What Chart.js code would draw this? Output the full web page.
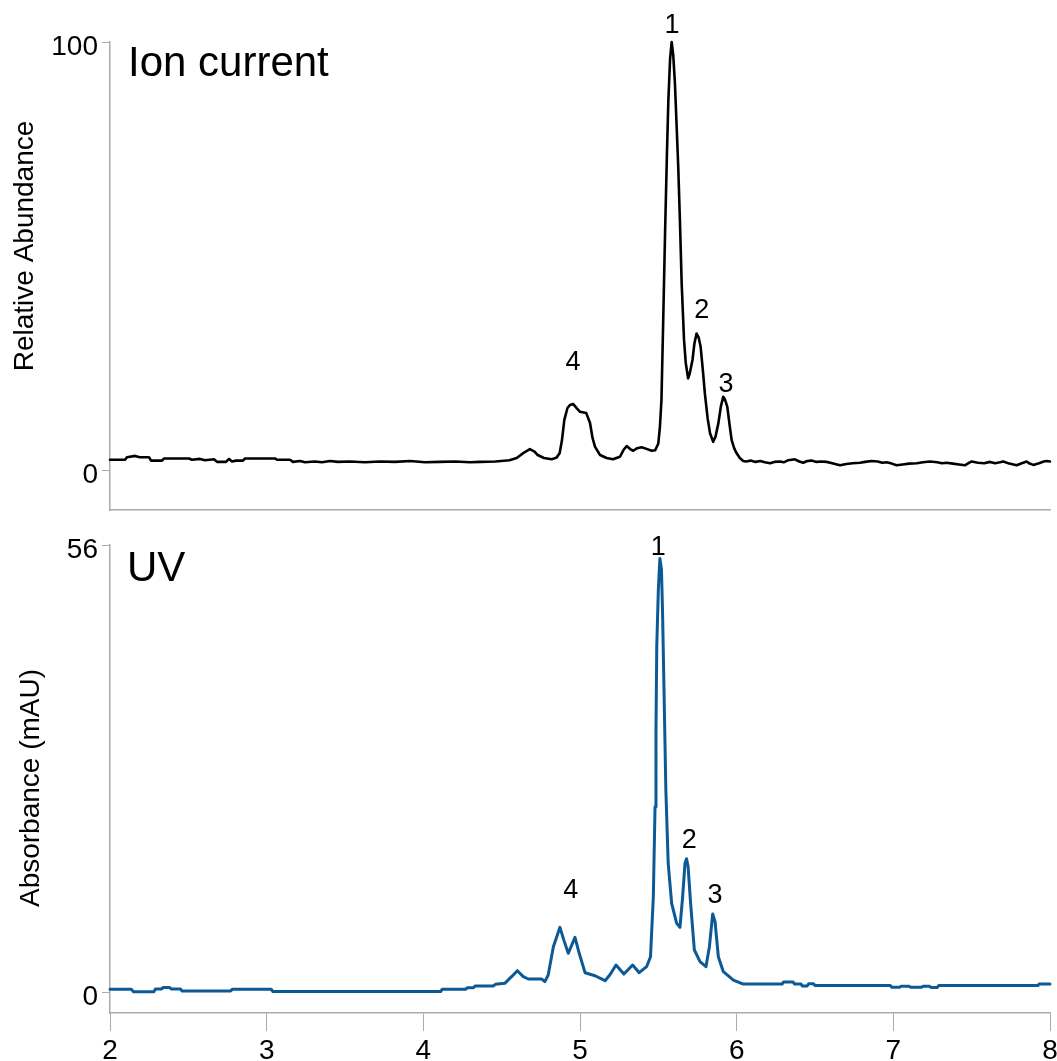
<!DOCTYPE html>
<html>
<head>
<meta charset="utf-8">
<script src="https://cdn.jsdelivr.net/npm/chart.js@4/dist/chart.umd.min.js"></script>
<style>
  html, body { margin: 0; padding: 0; background: #fff; }
  body { width: 1057px; height: 1061px; position: relative; overflow: hidden; }
  canvas { position: absolute; left: 0; }
  #ionCanvas { top: 0; }
  #uvCanvas { top: 525px; }
</style>
</head>
<body>
<canvas id="ionCanvas" width="1057" height="525"></canvas>
<canvas id="uvCanvas" width="1057" height="536"></canvas>
<script>
// Retention time axis (minutes)
const timeTicks = [2, 3, 4, 5, 6, 7, 8];

// Total ion current trace: retention time (min) and relative abundance (%)
const ionTime = [
  2.000, 2.096, 2.109, 2.160, 2.190, 2.249, 2.262, 2.332, 2.345, 2.504,
  2.523, 2.574, 2.606, 2.664, 2.683, 2.740, 2.760, 2.779, 2.804, 2.849,
  2.862, 3.053, 3.066, 3.149, 3.168, 3.213, 3.245, 3.308, 3.353, 3.404,
  3.455, 3.532, 3.628, 3.723, 3.819, 3.915, 4.011, 4.106, 4.202, 4.298,
  4.362, 4.460, 4.550, 4.596, 4.640, 4.680, 4.710, 4.730, 4.770, 4.820,
  4.850, 4.870, 4.885, 4.900, 4.920, 4.936, 4.957, 4.980, 5.000, 5.040,
  5.064, 5.080, 5.096, 5.128, 5.170, 5.210, 5.255, 5.280, 5.298, 5.320,
  5.340, 5.365, 5.393, 5.420, 5.457, 5.480, 5.500, 5.510, 5.520, 5.530,
  5.543, 5.555, 5.564, 5.575, 5.585, 5.595, 5.606, 5.615, 5.627, 5.638,
  5.649, 5.664, 5.675, 5.690, 5.700, 5.718, 5.730, 5.744, 5.757, 5.770,
  5.785, 5.797, 5.815, 5.830, 5.850, 5.865, 5.883, 5.900, 5.914, 5.925,
  5.940, 5.955, 5.968, 5.985, 6.000, 6.020, 6.042, 6.060, 6.090, 6.120,
  6.150, 6.180, 6.213, 6.240, 6.277, 6.300, 6.330, 6.372, 6.400, 6.425,
  6.450, 6.478, 6.510, 6.540, 6.574, 6.610, 6.640, 6.660, 6.700, 6.740,
  6.787, 6.820, 6.862, 6.900, 6.930, 6.957, 6.990, 7.021, 7.060, 7.100,
  7.149, 7.190, 7.234, 7.280, 7.310, 7.340, 7.380, 7.420, 7.457, 7.480,
  7.500, 7.540, 7.580, 7.617, 7.650, 7.680, 7.702, 7.740, 7.787, 7.820,
  7.851, 7.870, 7.894, 7.930, 7.960, 7.979, 8.000
];
const ionSignal = [
  2.4, 2.4, 3.0, 3.3, 3.0, 3.0, 2.2, 2.2, 2.7, 2.7,
  2.4, 2.6, 2.3, 2.5, 1.9, 1.9, 2.6, 2.0, 2.2, 2.2,
  2.7, 2.7, 2.4, 2.4, 1.9, 2.1, 1.8, 2.0, 1.8, 2.1,
  1.9, 2.0, 1.8, 2.0, 1.9, 2.1, 1.8, 1.9, 2.0, 1.8,
  1.9, 2.0, 2.3, 2.8, 4.0, 4.9, 4.3, 3.5, 2.8, 2.5,
  2.9, 3.9, 7.0, 11.7, 14.5, 15.2, 15.4, 14.4, 13.6, 13.3,
  11.0, 7.5, 5.4, 3.5, 2.8, 2.5, 3.1, 4.8, 5.6, 4.9,
  4.5, 5.1, 5.3, 5.0, 4.5, 4.6, 6.2, 10.0, 16.4, 33.0,
  55.4, 74.0, 86.4, 96.0, 100.0, 97.0, 90.3, 82.0, 70.9, 58.0,
  43.6, 30.4, 25.0, 21.4, 22.5, 25.7, 29.5, 31.9, 31.0, 28.8,
  23.0, 17.9, 12.0, 8.6, 6.6, 7.8, 10.9, 15.0, 17.1, 16.5,
  14.8, 10.5, 7.0, 5.0, 3.9, 2.8, 2.1, 2.0, 2.2, 1.9,
  2.1, 1.8, 1.6, 1.9, 2.0, 1.8, 2.3, 2.5, 2.0, 1.7,
  2.1, 2.2, 1.9, 2.0, 1.9, 1.6, 1.3, 1.1, 1.4, 1.6,
  1.7, 1.9, 2.1, 2.0, 1.7, 1.8, 1.5, 1.1, 1.3, 1.5,
  1.6, 1.8, 2.0, 1.8, 1.6, 1.7, 1.5, 1.3, 1.1, 1.6,
  2.0, 1.7, 1.6, 1.9, 1.6, 1.8, 2.0, 1.5, 1.1, 1.6,
  2.0, 1.5, 1.2, 1.6, 2.0, 2.1, 2.0
];

// UV absorbance trace: retention time (min) and absorbance (mAU)
const uvTime = [
  2.000, 2.137, 2.150, 2.280, 2.290, 2.330, 2.340, 2.380, 2.390, 2.450,
  2.460, 2.770, 2.780, 3.030, 3.040, 4.110, 4.120, 4.270, 4.280, 4.320,
  4.330, 4.446, 4.460, 4.520, 4.563, 4.600, 4.638, 4.670, 4.755, 4.776,
  4.797, 4.830, 4.872, 4.897, 4.925, 4.968, 4.995, 5.032, 5.096, 5.160,
  5.190, 5.230, 5.280, 5.336, 5.378, 5.425, 5.450, 5.468, 5.479, 5.485,
  5.490, 5.500, 5.510, 5.520, 5.527, 5.537, 5.548, 5.563, 5.585, 5.617,
  5.638, 5.655, 5.670, 5.680, 5.690, 5.706, 5.730, 5.766, 5.804, 5.826,
  5.847, 5.862, 5.883, 5.915, 5.979, 6.042, 6.290, 6.300, 6.360, 6.370,
  6.410, 6.420, 6.450, 6.460, 6.490, 6.500, 6.980, 6.990, 7.040, 7.050,
  7.100, 7.110, 7.180, 7.190, 7.230, 7.240, 7.280, 7.290, 7.923, 7.930,
  8.000
];
const uvSignal = [
  0.33, 0.33, 0.04, 0.04, 0.38, 0.38, 0.58, 0.58, 0.38, 0.38,
  0.12, 0.12, 0.33, 0.33, 0.05, 0.05, 0.33, 0.33, 0.54, 0.54,
  0.75, 0.75, 0.96, 1.09, 1.92, 2.67, 1.92, 1.63, 1.63, 1.30,
  2.13, 5.68, 8.10, 6.50, 4.85, 6.85, 4.85, 2.42, 2.04, 1.42,
  2.13, 3.38, 2.25, 3.38, 2.42, 3.17, 4.42, 11.9, 23.2, 32.8,
  43.3, 50.4, 54.3, 52.9, 47.5, 37.0, 25.3, 16.1, 11.1, 8.6,
  8.1, 11.9, 16.1, 16.7, 15.7, 11.1, 5.26, 3.8, 3.17, 5.68,
  9.77, 8.8, 4.42, 2.55, 1.5, 1.0, 1.0, 1.25, 1.25, 1.0,
  1.0, 0.75, 0.75, 1.04, 1.04, 0.83, 0.83, 0.6, 0.6, 0.72,
  0.72, 0.6, 0.6, 0.72, 0.72, 0.58, 0.58, 0.8, 0.8, 1.0,
  1.0
];

// Peak annotations: label, anchor time (min) and anchor level (axis units)
const peakNames = ['1', '2', '3', '4'];
const ionPeakTime = [5.587, 5.777, 5.932, 4.955];
const ionPeakLevel = [102.0, 35.5, 18.2, 23.3];
const uvPeakTime = [5.500, 5.698, 5.862, 4.941];
const uvPeakLevel = [54.75, 18.04, 11.15, 11.78];

// Y-axis tick values
const ionYTicks = [0, 100];
const uvYTicks = [0, 56];

const FONT = "'Liberation Sans', Arial, Helvetica, sans-serif";
const AXIS_GREY = '#ababab';

const toPoints = (xs, ys) => xs.map((x, i) => ({ x: x, y: ys[i] }));

// Draws the panel heading, the rotated y-axis title and the numbered peak labels
const panelText = {
  id: 'panelText',
  afterDatasetsDraw(chart, args, opts) {
    const ctx = chart.ctx;
    const xs = chart.scales.x, ys = chart.scales.y;
    ctx.save();
    ctx.fillStyle = '#000';
    ctx.textBaseline = 'alphabetic';

    ctx.font = '42px ' + FONT;
    ctx.textAlign = 'left';
    ctx.fillText(opts.heading, opts.headingX, opts.headingY);

    ctx.font = '27px ' + FONT;
    ctx.textAlign = 'center';
    opts.names.forEach((n, i) => {
      ctx.fillText(n, xs.getPixelForValue(opts.times[i]), ys.getPixelForValue(opts.levels[i]));
    });

    ctx.save();
    ctx.translate(opts.titleX, opts.titleY);
    ctx.rotate(-Math.PI / 2);
    ctx.font = '28px ' + FONT;
    ctx.textAlign = 'center';
    ctx.textBaseline = 'middle';
    ctx.fillText(opts.title, 0, 0);
    ctx.restore();

    ctx.restore();
  }
};

// Fixed-size scales: the plot area is set by the layout padding alone
function yScale(min, max, tickValues) {
  return {
    type: 'linear',
    min: min,
    max: max,
    afterFit(s) { s.width = 110; s.paddingTop = 0; s.paddingBottom = 0; },
    afterBuildTicks(s) { s.ticks = tickValues.map(v => ({ value: v })); },
    grid: { display: true, drawOnChartArea: false, drawTicks: true, tickLength: 8, color: AXIS_GREY, lineWidth: 1 },
    border: { display: true, color: AXIS_GREY, width: 1.5 },
    ticks: { color: '#000', font: { family: FONT, size: 28 }, padding: 4, labelOffset: 5 }
  };
}

function baseOptions() {
  return {
    responsive: false,
    animation: false,
    devicePixelRatio: 1,
    plugins: { legend: { display: false }, tooltip: { enabled: false } },
    elements: { point: { radius: 0 }, line: { tension: 0, borderJoinStyle: 'round', borderCapStyle: 'round' } }
  };
}

// Upper panel: ion current
const ionOpts = baseOptions();
ionOpts.layout = { padding: { top: 42, right: 7, bottom: 15, left: 0 } };
ionOpts.scales = {
  x: {
    type: 'linear', min: timeTicks[0], max: timeTicks[timeTicks.length - 1],
    afterFit(s) { s.height = 0; s.paddingLeft = 0; s.paddingRight = 0; },
    grid: { display: false },
    border: { display: true, color: AXIS_GREY, width: 1.5 },
    ticks: { display: false }
  },
  y: yScale(-9.34, 100, ionYTicks)
};
ionOpts.plugins.panelText = {
  heading: 'Ion current', headingX: 128, headingY: 76,
  names: peakNames, times: ionPeakTime, levels: ionPeakLevel,
  title: 'Relative Abundance', titleX: 25, titleY: 246
};

new Chart(document.getElementById('ionCanvas'), {
  type: 'line',
  data: {
    datasets: [{
      label: 'Ion current',
      data: toPoints(ionTime, ionSignal),
      borderColor: '#000000',
      borderWidth: 2.6,
      fill: false,
      clip: 6
    }]
  },
  options: ionOpts,
  plugins: [panelText]
});

// Lower panel: UV absorbance
const uvOpts = baseOptions();
uvOpts.layout = { padding: { top: 20, right: 7, bottom: 0, left: 0 } };
uvOpts.scales = {
  x: {
    type: 'linear', min: timeTicks[0], max: timeTicks[timeTicks.length - 1],
    afterFit(s) { s.height = 48; s.paddingLeft = 0; s.paddingRight = 0; },
    afterBuildTicks(s) { s.ticks = timeTicks.map(v => ({ value: v })); },
    grid: { display: true, drawOnChartArea: false, drawTicks: true, tickLength: 18, color: AXIS_GREY, lineWidth: 1 },
    border: { display: true, color: AXIS_GREY, width: 1.5 },
    ticks: { color: '#000', font: { family: FONT, size: 28 }, padding: 3, maxRotation: 0, autoSkip: false }
  },
  y: yScale(-2.63, 56, uvYTicks)
};
uvOpts.plugins.panelText = {
  heading: 'UV', headingX: 127, headingY: 581 - 525,
  names: peakNames, times: uvPeakTime, levels: uvPeakLevel,
  title: 'Absorbance (mAU)', titleX: 31, titleY: 788 - 525
};

new Chart(document.getElementById('uvCanvas'), {
  type: 'line',
  data: {
    datasets: [{
      label: 'UV',
      data: toPoints(uvTime, uvSignal),
      borderColor: '#0b5a96',
      borderWidth: 3,
      fill: false,
      clip: 6
    }]
  },
  options: uvOpts,
  plugins: [panelText]
});
</script>
</body>
</html>
